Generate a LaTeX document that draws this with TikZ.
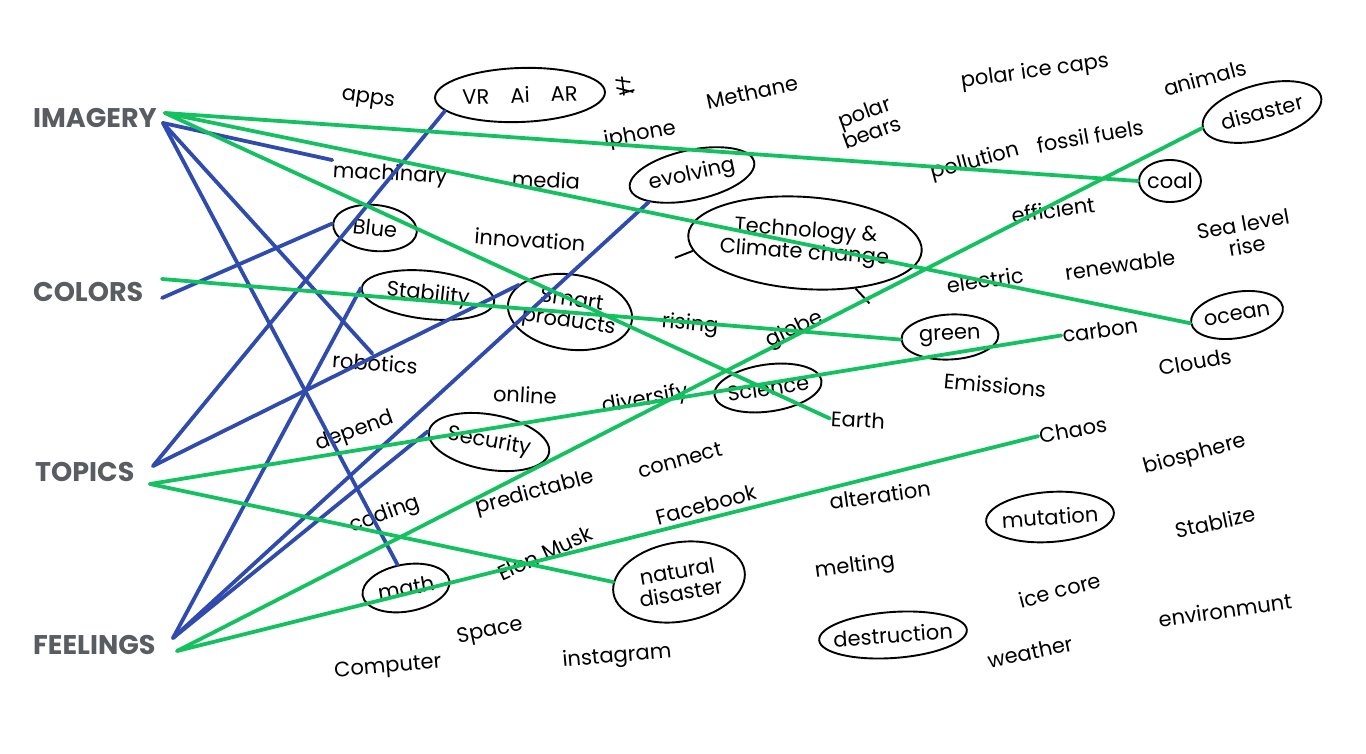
\documentclass[tikz,border=0pt]{standalone}
\usepackage{fontspec}
\setmainfont{Poppins}
\usetikzlibrary{shapes.geometric}
\definecolor{HeadGray}{HTML}{595D62}
\definecolor{LinkGreen}{HTML}{14C160}
\definecolor{LinkBlue}{HTML}{2F4BAE}
\tikzset{head/.style={anchor=west,inner sep=0pt,text=HeadGray,font=\fontsize{27}{27}\selectfont\bfseries},
word/.style={inner sep=1pt,align=center,font=\fontsize{21}{22}\selectfont},
ring/.style={draw,ellipse,line width=1.9pt,inner sep=0pt},
gline/.style={LinkGreen,line width=3.8pt,line cap=round},
bline/.style={LinkBlue,line width=3.8pt,line cap=round}}
\begin{document}
\begin{tikzpicture}[x=1pt,y=-1pt]
\useasboundingbox (0,0) rectangle (1366,754);
\node[head] (img) at (33,118) {IMAGERY};
\node[head] (col) at (33,292) {COLORS};
\node[head] (top) at (35,472) {TOPICS};
\node[head] (feel) at (33,645) {FEELINGS};
\coordinate (imgG) at (165,113); \coordinate (imgB) at (163,123);
\coordinate (colG) at (162,279); \coordinate (colB) at (162,298);
\coordinate (topB) at (153,466); \coordinate (topG) at (150,484);
\coordinate (feelB) at (173,638); \coordinate (feelG) at (177,651);
\foreach \n/\x/\y/\w/\h/\r/\t in {vr/520/95/170/54/2/VR\quad Ai\quad AR,evolv/692/175/127/50/12/evolving,
tech/805/243/234/92/-4/{Technology \&\\Climate change},coal/1170/181/62/42/0/coal,disas/1262/112/122/55/15/disaster,
blue/375/228/84/46/-6/Blue,stab/428/295/133/48/-6/Stability,smart/570/312/125/75/-8/{Smart\\products},
green/950/337/97/45/3/green,ocean/1237/315/93/46/10/ocean,sci/768/388/108/47/8/Science,sec/489/442/122/55/-10/Security,
mut/1050/517/128/50/4/mutation,math/406/588/88/47/10/math,natdis/679/582/133/79/10/{natural\\disaster},
destr/893/635/148/46/4/destruction}{
\node[ring,minimum width=\w pt,minimum height=\h pt,rotate=\r] (\n) at (\x,\y) {};
\node[word,rotate=\r] (\n-t) at (\n) {\t};}
\draw[line width=1.9pt] (tech.188) -- ++(-18,7);
\draw[line width=1.9pt] (tech.-38) -- ++(14,15);
\draw[line width=1.6pt,line cap=round] (vr.east) ++(10,-12) coordinate (scr) -- ++(14,2) (scr) ++(6,-3) -- ++(2,18)
  (scr) ++(1,8) -- ++(16,4) (scr) ++(4,14) -- ++(14,-4);
\foreach \n/\x/\y/\r/\t in {apps/368/100/-8/apps,meth/752/92/12/Methane,pbear/868/122/20/{polar\\bears},
pice/1035/72/8/polar ice caps,anim/1205/78/15/animals,iph/640/135/10/iphone,mach/390/175/-3/machinary,
media/546/180/-3/media,poll/975/162/15/pollution,fossil/1090/136/10/fossil fuels,innov/530/240/-4/innovation,
effic/1053/210/8/efficient,sea/1245/235/10/{Sea level\\rise},renew/1120/265/8/renewable,elec/985/280/8/electric,
rising/690/325/-5/rising,globe/795/330/25/globe,carbon/1100/330/8/carbon,robot/375/363/-4/robotics,
online/525/395/-3/online,divers/645/400/10/diversify,earth/858/420/-3/Earth,emis/995/385/-5/Emissions,
cloud/1195/362/10/Clouds,depend/355/432/20/depend,conn/680/460/15/connect,chaos/1073/430/10/Chaos,
bios/1195/455/15/biosphere,coding/385/515/20/coding,predict/535/493/15/predictable,fb/706/505/15/Facebook,
alter/880/495/8/alteration,stabl/1215/522/12/Stablize,elon/545/553/25/Elon Musk,melt/855/567/8/melting,
ice/1060/590/15/ice core,env/1225/610/8/environmunt,space/490/632/12/Space,comp/388/668/5/Computer,
insta/617/657/5/instagram,weath/1030/652/12/weather}
\node[word,rotate=\r] (\n) at (\x,\y) {\t};
\foreach \a/\b in {imgB/mach.north west,imgB/robot.110,imgB/math.100,colB/blue.west,topB/vr.190,
topB/smart.160,feelB/stab.west,feelB/evolv.200,feelB/sec.west}
\draw[bline] (\a) -- (\b);
\foreach \a/\b in {imgG/coal.west,imgG/ocean.west,imgG/earth.west,colG/green.west,topG/carbon.west,
topG/natdis.170,feelG/disas.west,feelG/chaos.west}
\draw[gline] (\a) -- (\b);
\end{tikzpicture}
\end{document}
